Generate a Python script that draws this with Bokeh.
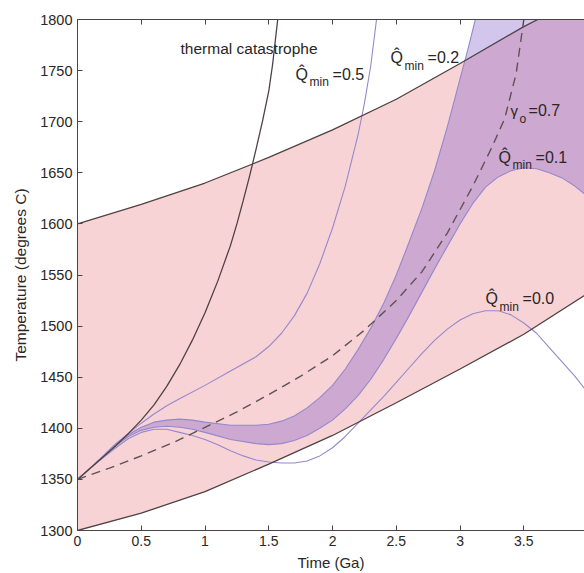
import numpy as np
from bokeh.plotting import figure
from bokeh.models import Range1d, LinearAxis, FixedTicker, NumeralTickFormatter, ColumnDataSource
from bokeh.core.properties import value
from bokeh.embed import file_html
from bokeh.resources import INLINE

# ---------------- data ----------------
x_ticks = [0, 0.5, 1, 1.5, 2, 2.5, 3, 3.5]
y_ticks = [1300, 1350, 1400, 1450, 1500, 1550, 1600, 1650, 1700, 1750, 1800]

upper_x = [0, 0.5, 1.0, 1.5, 2.0, 2.5, 3.0, 3.5, 3.61]
upper_T = [1600, 1619, 1640, 1665, 1692, 1722, 1757, 1793, 1800]

lower_x = [0, 0.5, 1.0, 1.5, 2.0, 2.5, 3.0, 3.5, 4.0]
lower_T = [1300, 1317, 1338, 1365, 1393, 1425, 1458, 1492, 1532]

catastrophe_x = [0, 0.1, 0.2, 0.3, 0.4, 0.5, 0.6, 0.7, 0.8, 0.9, 1.0, 1.1, 1.2, 1.25, 1.3,
                 1.35, 1.4, 1.45, 1.5, 1.53, 1.57]
catastrophe_T = [1350, 1361, 1372, 1383, 1395, 1408, 1423, 1441, 1462, 1486, 1513, 1544, 1579,
                 1600, 1623, 1647, 1673, 1700, 1730, 1756, 1800]

q05_x = [0, 0.1, 0.2, 0.3, 0.4, 0.5, 0.6, 0.7, 0.8, 1.0, 1.2, 1.4, 1.5, 1.6, 1.7, 1.8, 1.9,
         2.0, 2.1, 2.2, 2.25, 2.3, 2.345]
q05_T = [1350, 1361, 1373, 1385, 1395, 1405, 1414, 1422, 1429, 1442, 1456, 1470, 1480, 1493,
         1510, 1532, 1561, 1596, 1637, 1687, 1718, 1755, 1800]

q02_x = [0, 0.1, 0.2, 0.3, 0.4, 0.5, 0.6, 0.7, 0.8, 0.9, 1.0, 1.2, 1.4, 1.5, 1.6, 1.7, 1.8,
         1.9, 2.0, 2.1, 2.2, 2.3, 2.4, 2.5, 2.6, 2.7, 2.8, 2.9, 3.0, 3.06, 3.12]
q02_T = [1350, 1361, 1372, 1384, 1394, 1401, 1406, 1408, 1409, 1408, 1406, 1403, 1403, 1404,
         1407, 1412, 1420, 1430, 1442, 1458, 1477, 1498, 1522, 1550, 1582, 1615, 1652, 1695,
         1742, 1770, 1800]

q01_x = [0, 0.1, 0.2, 0.3, 0.4, 0.5, 0.6, 0.7, 0.8, 0.9, 1.0, 1.2, 1.4, 1.5, 1.6, 1.7, 1.8,
         1.9, 2.0, 2.1, 2.2, 2.3, 2.4, 2.5, 2.6, 2.7, 2.8, 2.9, 3.0, 3.1, 3.2, 3.3, 3.4, 3.5,
         3.6, 3.7, 3.8, 3.9, 4.0]
q01_T = [1350, 1361, 1372, 1383, 1392, 1398, 1401, 1402, 1401, 1399, 1396, 1389, 1385, 1384,
         1385, 1388, 1393, 1400, 1408, 1419, 1432, 1448, 1467, 1488, 1510, 1533, 1556, 1578,
         1600, 1620, 1636, 1646, 1652, 1655, 1654, 1650, 1645, 1637, 1627]

q00_x = [0, 0.1, 0.2, 0.3, 0.4, 0.5, 0.6, 0.7, 0.8, 0.9, 1.0, 1.1, 1.2, 1.3, 1.4, 1.5, 1.6,
         1.7, 1.8, 1.9, 2.0, 2.1, 2.2, 2.3, 2.4, 2.5, 2.6, 2.7, 2.8, 2.9, 3.0, 3.1, 3.2, 3.3,
         3.4, 3.5, 3.6, 3.7, 3.8, 3.9, 4.0]
q00_T = [1350, 1361, 1371, 1381, 1390, 1396, 1399, 1399, 1396, 1393, 1389, 1384, 1378, 1373,
         1369, 1367, 1366, 1366, 1368, 1373, 1381, 1392, 1405, 1418, 1431, 1445, 1459, 1473,
         1486, 1497, 1506, 1512, 1515, 1515, 1511, 1503, 1493, 1479, 1465, 1451, 1435]

gamma_x = [0, 0.25, 0.5, 0.75, 1.0, 1.25, 1.5, 1.75, 2.0, 2.25, 2.5, 2.7, 2.9, 3.1, 3.25,
           3.35, 3.44, 3.5]
gamma_T = [1350, 1361, 1373, 1386, 1401, 1416, 1433, 1451, 1471, 1496, 1525, 1553, 1591, 1637,
           1675, 1703, 1747, 1800]

# labels
thermal_label = "thermal catastrophe"
thermal_pos = (0.808, 1771.6)
q_label_x = [1.71, 2.455, 3.302, 3.20]
q_label_T = [1746.2, 1762.8, 1665.0, 1527.0]
q_label_val = ["=0.5", "=0.2", "=0.1", "=0.0"]
gamma_label_pos = (3.396, 1711.0)
gamma_label_val = "=0.7"

X_MAX = 3.976
Y_MIN, Y_MAX = 1300, 1800

# ---------------- figure ----------------
p = figure(width=584, height=573, x_range=Range1d(0, X_MAX), y_range=Range1d(Y_MIN, Y_MAX),
           output_backend="svg", toolbar_location=None,
           min_border_left=77, min_border_right=0, min_border_top=19, min_border_bottom=43)
p.grid.visible = False
p.outline_line_color = None
p.background_fill_color = "white"
p.border_fill_color = "white"

FONT = "Liberation Sans"
AX_COL = "#4a4444"
TXT_COL = "#2a2626"

for ax in (p.xaxis[0], p.yaxis[0]):
    ax.major_tick_in = 5
    ax.major_tick_out = 0
    ax.minor_tick_line_color = None
    ax.axis_line_color = AX_COL
    ax.major_tick_line_color = AX_COL
    ax.major_label_text_font = FONT
    ax.major_label_text_color = TXT_COL
    ax.axis_label_text_font = FONT
    ax.axis_label_text_font_style = "normal"
    ax.axis_label_text_color = TXT_COL

p.xaxis.ticker = FixedTicker(ticks=x_ticks)
p.xaxis.formatter = NumeralTickFormatter(format="0.[0]")
p.xaxis.major_label_text_font_size = "14px"
p.xaxis.major_label_standoff = 5
p.xaxis.axis_label = "Time (Ga)"
p.xaxis.axis_label_text_font_size = "15px"
p.xaxis.axis_label_standoff = 5

p.yaxis.ticker = FixedTicker(ticks=y_ticks)
p.yaxis.major_label_text_font_size = "14.5px"
p.yaxis.major_label_standoff = 5
p.yaxis.axis_label = "Temperature (degrees C)"
p.yaxis.axis_label_text_font_size = "15.5px"
p.yaxis.axis_label_standoff = 8

top = LinearAxis(ticker=FixedTicker(ticks=x_ticks), major_label_text_font_size="1px",
                 major_label_text_color=None,
                 major_tick_in=5, major_tick_out=0, minor_tick_line_color=None,
                 axis_line_color=AX_COL, major_tick_line_color=AX_COL, major_label_standoff=0)
p.add_layout(top, "above")

# pink band between lower and upper boundary
pink_x = lower_x + [lower_x[-1]] + upper_x[::-1]
pink_T = lower_T + [Y_MAX] + upper_T[::-1]
p.patch(pink_x, pink_T, fill_color="#f8d3d6", line_color=None)

# purple band between Q=0.1 and Q=0.2
band_x = q01_x + [q01_x[-1]] + q02_x[::-1]
band_T = q01_T + [Y_MAX] + q02_T[::-1]
p.patch(band_x, band_T, fill_color=(125, 92, 200), fill_alpha=0.35, line_color=None)

QCOL = "#9488cc"
for xs, ts in ((q05_x, q05_T), (q02_x, q02_T), (q01_x, q01_T), (q00_x, q00_T)):
    p.line(xs, ts, line_color=QCOL, line_width=1.1)

BLK = "#4e4242"
p.line(upper_x, upper_T, line_color=BLK, line_width=1.3)
p.line(lower_x, lower_T, line_color=BLK, line_width=1.3)
p.line(catastrophe_x, catastrophe_T, line_color=BLK, line_width=1.3)
p.line(gamma_x, gamma_T, line_color="#5e5252", line_width=1.4, line_dash="9 6")

# annotations
p.text(x=[thermal_pos[0]], y=[thermal_pos[1]], text=[thermal_label], text_font=value(FONT),
       text_font_size="15.5px", text_color=TXT_COL, text_baseline="alphabetic", text_align="left")

src = ColumnDataSource(dict(x=q_label_x, y=q_label_T, q=["Q\u0302"] * len(q_label_x),
                            sub=["min"] * len(q_label_x), val=q_label_val))
p.text(x="x", y="y", text="q", source=src, text_font=value(FONT), text_font_size="16px",
       text_color=TXT_COL, text_baseline="alphabetic", text_align="left")
p.text(x="x", y="y", text="sub", source=src, text_font=value(FONT), text_font_size="12px",
       text_color=TXT_COL, text_baseline="alphabetic", text_align="left", x_offset=14, y_offset=8)
p.text(x="x", y="y", text="val", source=src, text_font=value(FONT), text_font_size="16px",
       text_color=TXT_COL, text_baseline="alphabetic", text_align="left", x_offset=37)

p.text(x=[gamma_label_pos[0]], y=[gamma_label_pos[1]], text=["\u03b3"], text_font=value(FONT),
       text_font_size="15px", text_color=TXT_COL, text_baseline="alphabetic", text_align="left")
p.text(x=[gamma_label_pos[0]], y=[gamma_label_pos[1]], text=["o"], text_font=value(FONT),
       text_font_size="12px", text_color=TXT_COL, text_baseline="alphabetic", text_align="left",
       x_offset=9, y_offset=9)
p.text(x=[gamma_label_pos[0]], y=[gamma_label_pos[1]], text=[gamma_label_val], text_font=value(FONT),
       text_font_size="16px", text_color=TXT_COL, text_baseline="alphabetic", text_align="left",
       x_offset=18)

open("out.html", "w").write(file_html(p, INLINE))
